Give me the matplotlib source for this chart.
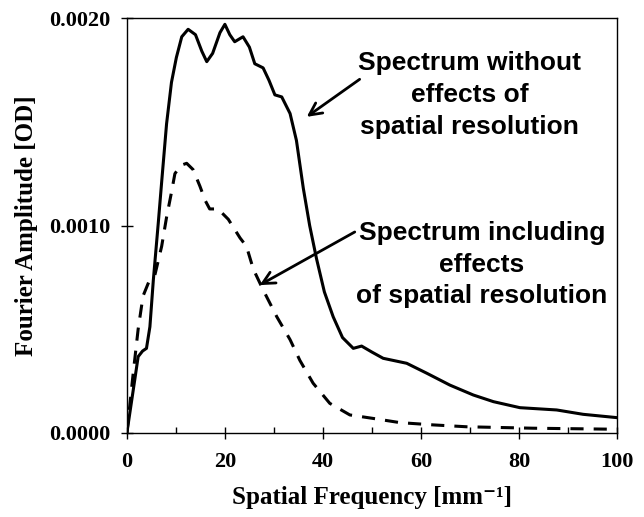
import matplotlib
matplotlib.use("Agg")
import matplotlib.pyplot as plt
from matplotlib.ticker import MultipleLocator, FormatStrFormatter

# spectrum without effects of spatial resolution (solid)
freq_raw = [0, 1.6, 2.3, 3.2, 4.0, 4.7, 5.4, 6.4, 7.1, 8.1, 9.1, 10.1, 11.2, 12.5,
            14.0, 15.3, 16.3, 17.5, 19.0, 20.0, 21.0, 22.0, 23.7, 25.0, 26.1, 27.8,
            29.0, 30.2, 31.6, 33.3, 34.6, 36.0, 37.3, 38.7, 40.3, 42.1, 44.0, 46.2,
            47.9, 50.0, 52.3, 57.1, 61.2, 65.9, 70.7, 74.8, 80.2, 87.7, 93.1, 100]
amp_raw = [0, 0.000255, 0.000368, 0.000395, 0.000408, 0.000512, 0.000737, 0.00101,
           0.00121, 0.00149, 0.00169, 0.00181, 0.00191, 0.001946, 0.00192, 0.00184,
           0.00179, 0.00183, 0.00193, 0.00197, 0.00192, 0.001886, 0.00191, 0.00186,
           0.00178, 0.00176, 0.00170, 0.00163, 0.00162, 0.00154, 0.00141, 0.00118,
           0.00100, 0.00084, 0.00068, 0.00056, 0.00046, 0.000408, 0.000419, 0.000390,
           0.000360, 0.000336, 0.000288, 0.000231, 0.000183, 0.000151, 0.000122,
           0.000111, 0.000090, 0.000074]

# spectrum including effects of spatial resolution (dashed)
freq_res = [0, 1.3, 2.3, 3.3, 4.5, 5.7, 7.1, 8.1, 9.1, 9.8, 11.0, 12.2, 13.5, 14.9,
            16.0, 16.9, 18.6, 20.7, 23.1, 24.4, 25.8, 27.8, 30.6, 33.3, 35.3, 38.0,
            41.4, 45.5, 50.3, 55.7, 62.5, 69.3, 82.9, 100]
amp_res = [0, 0.00029, 0.00050, 0.00066, 0.00073, 0.00076, 0.00090, 0.00104, 0.00116,
           0.00125, 0.00129, 0.00130, 0.00127, 0.00119, 0.00112, 0.00108, 0.00108,
           0.00103, 0.00094, 0.00090, 0.00079, 0.00069, 0.00056, 0.00045, 0.00035,
           0.00024, 0.000143, 0.000087, 0.000070, 0.000050, 0.000039, 0.000030,
           0.000023, 0.000018]

x_ticks = [0, 20, 40, 60, 80, 100]
y_ticks = [0.0, 0.001, 0.002]

serif = ["Liberation Serif", "DejaVu Serif"]
sans = "Liberation Sans"

fig = plt.figure(figsize=(6.44, 5.17), dpi=100)
ax = fig.add_axes([0.197, 0.1625, 0.761, 0.8025])

ax.plot(freq_raw, amp_raw, color="black", lw=2.2, solid_joinstyle="round")
ax.plot(freq_res, amp_res, color="black", lw=2.2, linestyle=(0, (4.3, 3.3)))

ax.set_xlim(0, 100)
ax.set_ylim(0, 0.002)
ax.set_xticks(x_ticks)
ax.set_yticks(y_ticks)
ax.xaxis.set_minor_locator(MultipleLocator(10))
ax.yaxis.set_major_formatter(FormatStrFormatter("%.4f"))
ax.tick_params(which="major", direction="inout", length=8, width=1)
ax.tick_params(which="minor", direction="in", length=4, width=1)
ax.tick_params(axis="y", which="minor", left=False)
for lab in ax.get_xticklabels() + ax.get_yticklabels():
    lab.set_fontfamily(serif)
    lab.set_fontweight("bold")
    lab.set_fontsize(16)
ax.tick_params(axis="x", pad=10)
ax.tick_params(axis="y", pad=8)
for sp in ax.spines.values():
    sp.set_linewidth(1)

ax.set_xlabel("Spatial Frequency [mm\u207b\u00b9]", fontfamily=serif,
              fontweight="bold", fontsize=18, labelpad=10)
ax.set_ylabel("Fourier Amplitude [OD]", fontfamily=serif, fontweight="bold",
              fontsize=18, labelpad=8)

ax.text(70, 0.001629, "Spectrum without\neffects of\nspatial resolution",
        ha="center", va="center", fontfamily=sans, fontweight="bold",
        fontsize=19, linespacing=1.4)
ax.text(72.4, 0.000812, "Spectrum including\neffects\nof spatial resolution",
        ha="center", va="center", fontfamily=sans, fontweight="bold",
        fontsize=19, linespacing=1.4)

arrow = dict(arrowstyle="->", lw=2, color="black", shrinkA=0, shrinkB=0,
             mutation_scale=22)
ax.annotate("", xy=(36.7, 0.001524), xytext=(47.5, 0.001705), arrowprops=arrow)
ax.annotate("", xy=(27.1, 0.000713), xytext=(46.5, 0.000969), arrowprops=arrow)

fig.savefig("out.png", dpi=100)
